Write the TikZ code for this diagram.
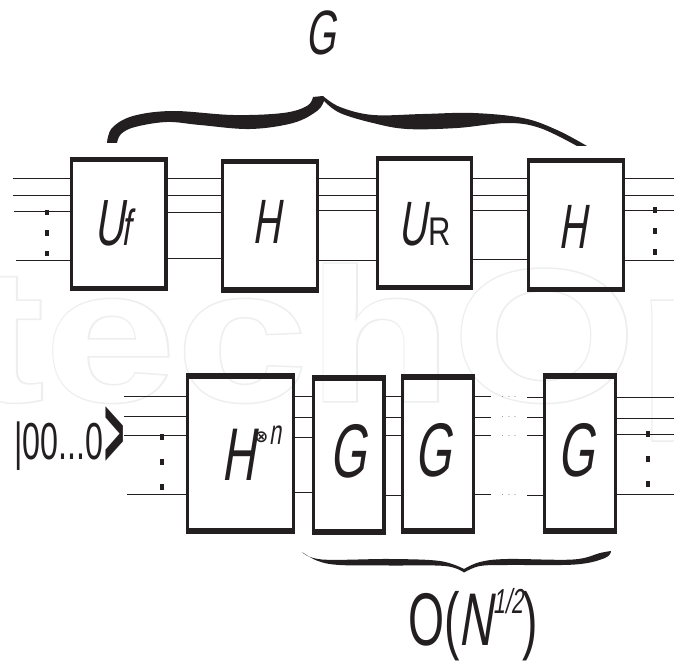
\documentclass[tikz,border=0pt]{standalone}
\usepackage{fontspec}
\setmainfont{Liberation Sans}
\newfontfamily\cf[FakeStretch=0.62,FakeSlant=0.16]{Liberation Sans}
\newfontfamily\cu[FakeStretch=0.62]{Liberation Sans}
\newfontfamily\syb{DejaVu Sans}
\newfontfamily\wmo[FakeBold=1.6,FakeStretch=1.25]{Liberation Sans Bold}
\newfontfamily\wmi[FakeStretch=1.25]{Liberation Sans Bold}
\definecolor{ink}{HTML}{231F20}
\definecolor{wm}{HTML}{EDEFEE}
\newcommand{\gate}[7]{% name x1 y1 x2 y2 top bottom
  \pgfmathsetmacro{\gw}{(#4-#2-3.4)*0.75}
  \pgfmathsetmacro{\gh}{(#5-#3-3.4)*0.75}
  \node[gatebox,minimum width=\gw pt,minimum height=\gh pt] (#1) at ({(#2+#4)/2},{(#3+#5)/2}) {};
  \fill[ink] (#2,#3) rectangle (#4,#3+#6);
  \fill[ink] (#2,#5-#7) rectangle (#4,#5);
}
\tikzset{
  gatebox/.style={draw=ink,line width=2.55pt,rectangle,inner sep=0pt,outer sep=0pt},
  wire/.style={draw=ink,line width=0.75pt},
  lab/.style={text=ink,inner sep=0pt,outer sep=0pt,anchor=base west},
  dotmark/.style={fill=ink,draw=none,rectangle,inner sep=0pt,minimum width=2.8pt,minimum height=4pt},
  ell/.style={text=ink,inner sep=0pt,anchor=base,font=\fontsize{5}{5}\selectfont}
}
\newcommand{\lsize}[1]{\fontsize{#1}{#1}\selectfont}
\begin{document}
\begin{tikzpicture}[x=0.75pt,y=-0.75pt]
\useasboundingbox (0,0) rectangle (674,663);
% watermark
\begin{scope}
\clip (0,0) rectangle (674,663);
\node[inner sep=0pt,anchor=base west,text=wm,font={\lsize{142}\wmo}] (wmA) at (-245,401) {IntechOpen};
\node[inner sep=0pt,anchor=base west,text=white,font={\lsize{142}\wmi}] (wmB) at (-245,401) {IntechOpen};
\end{scope}
% gates, top row
\gate{uf}{70}{157.5}{167.5}{291}{5}{5.3}
\gate{ha}{221}{159}{319}{292.5}{5}{5.3}
\gate{ur}{375.7}{156}{473}{290}{5}{5.3}
\gate{hb}{527}{158}{625}{292}{5}{5.3}
% gates, bottom row
\gate{hn}{186}{373}{295}{533.7}{6}{6}
\gate{ga}{312}{374.5}{385.5}{534.5}{6}{6}
\gate{gb}{400.7}{373.5}{475}{534}{6}{6}
\gate{gc}{543}{373}{617}{534}{6}{6}
% free wire ends
\coordinate (la) at (13,178); \coordinate (lb) at (12.5,195); \coordinate (lc) at (13.5,211); \coordinate (ld) at (16,260);
\coordinate (ra) at (674,178); \coordinate (rb) at (674,195); \coordinate (rc) at (674,210.5); \coordinate (rd) at (674,260);
\coordinate (pa) at (124,396.7); \coordinate (pb) at (124,416.3); \coordinate (pc) at (124,435.7); \coordinate (pd) at (127,494);
\coordinate (qa) at (674,397); \coordinate (qb) at (674,418); \coordinate (qc) at (674,434); \coordinate (qd) at (674,494);
\coordinate (sa) at (491,396.5); \coordinate (sb) at (491,417); \coordinate (sc) at (491,435.5); \coordinate (sd) at (491,494);
\coordinate (ta) at (527,397); \coordinate (tb) at (527,417); \coordinate (tc) at (527,435.5); \coordinate (td) at (527,495);
% wires top
\foreach \c in {la,lb,lc,ld} \draw[wire] (\c) -- (\c -| uf.west);
\foreach \y in {178,195,212,258} \draw[wire] (uf.east |- 0,\y) -- (ha.west |- 0,\y);
\foreach \y in {178,195,210,260} \draw[wire] (ha.east |- 0,\y) -- (ur.west |- 0,\y);
\foreach \y in {178,195,210.5,259} \draw[wire] (ur.east |- 0,\y) -- (hb.west |- 0,\y);
\foreach \c in {ra,rb,rc,rd} \draw[wire] (hb.east |- \c) -- (\c);
% wires bottom
\foreach \c in {pa,pb,pc,pd} \draw[wire] (\c) -- (\c -| hn.west);
\foreach \y in {396.7,417,437,492} \draw[wire] (hn.east |- 0,\y) -- (ga.west |- 0,\y);
\foreach \y in {396.5,417,435.5,495} \draw[wire] (ga.east |- 0,\y) -- (gb.west |- 0,\y);
\foreach \c in {sa,sb,sc,sd} \draw[wire] (gb.east |- \c) -- (\c);
\foreach \c in {ta,tb,tc,td} \draw[wire] (\c) -- (\c -| gc.west);
\foreach \c in {qa,qb,qc,qd} \draw[wire] (gc.east |- \c) -- (\c);
% dotted columns
\foreach \n/\x/\y in {a/47/212.5,b/47/233,c/47/253.5,d/655/210,e/655/231,f/655/252,g/162/437,h/162/462,i/162/487,j/648/434,k/648/459,l/648/484}
  \node[dotmark] (dot\n) at (\x,\y) {};
% ellipses between G boxes
\foreach \n/\y in {a/397,b/417,c/436.5,d/495} \node[ell] (el\n) at (509,\y) {.\hspace{3.2pt}.\hspace{3.2pt}.};
% braces
\fill[ink] plot[smooth,tension=0.6] coordinates {(107,143) (112,128) (133,116) (173,111) (233,115) (283,113) (307,106) (313,97)}
  -- (323,96)
  -- plot[smooth,tension=0.6] coordinates {(323,96) (340,107) (373,115) (423,114) (473,113) (523,118) (557,130) (587,146)}
  -- (577,146)
  -- plot[smooth,tension=0.6] coordinates {(577,146) (540,128) (507,123) (457,128) (407,129) (373,123) (340,113) (324,101)}
  -- plot[smooth,tension=0.6] coordinates {(324,101) (317,111) (293,123) (250,129) (200,125) (167,122) (135,127) (121,134) (117,143)}
  -- cycle;
\fill[ink] plot[smooth,tension=0.6] coordinates {(302,552) (322,559.5) (390,559) (440,561) (464,569)}
  -- plot[smooth,tension=0.6] coordinates {(464,569) (480,562) (507,559) (573,559.5) (600,553) (611,551)}
  -- plot[smooth,tension=0.6] coordinates {(611,551) (605,558) (575,564.5) (507,565) (480,566) (464,572.5)}
  -- plot[smooth,tension=0.6] coordinates {(464,572.5) (445,566) (390,565.5) (340,565) (318,561) (302,552)}
  -- cycle;
% labels
\node[lab,font={\lsize{47}\cf}] (tg) at (305,55) {G};
\node[lab,font={\lsize{49}\cf}] (luf) at (94,245) {U\kern-1pt{\lsize{38}f}};
\node[lab,font={\lsize{47}\cf}] (lha) at (252,243) {H};
\node[lab,font={\lsize{47}\cf}] (lur) at (398,245) {U\kern1.5pt\scalebox{1.25}[1]{\lsize{30}\cu R}};
\node[lab,font={\lsize{47}\cf}] (lhb) at (558,248) {H};
\node[lab,font={\lsize{56}\cf}] (lhn) at (221,480) {H\raisebox{28.5pt}{\lsize{12.5}\syb\bfseries ⊗}\kern0.5pt\raisebox{27pt}{\lsize{26}\cf n}};
\node[lab,font={\lsize{57}\cf}] (lga) at (329,477) {G};
\node[lab,font={\lsize{57}\cf}] (lgb) at (414,476) {G};
\node[lab,font={\lsize{57}\cf}] (lgc) at (557,476) {G};
\node[lab,font={\lsize{39}\cu}] (lket) at (14,459) {|00...0};
\node[lab,font={\lsize{40}\cu}] (lkr) at (104,467) {\scalebox{1.05}[1.9]{\bfseries >}};
\node[lab,font={\lsize{56}\cu}] (lon) at (408,645) {O({\kern-1pt\cf N\kern1pt}\raisebox{24pt}{\lsize{26}\cf 1/2})};
\end{tikzpicture}
\end{document}
